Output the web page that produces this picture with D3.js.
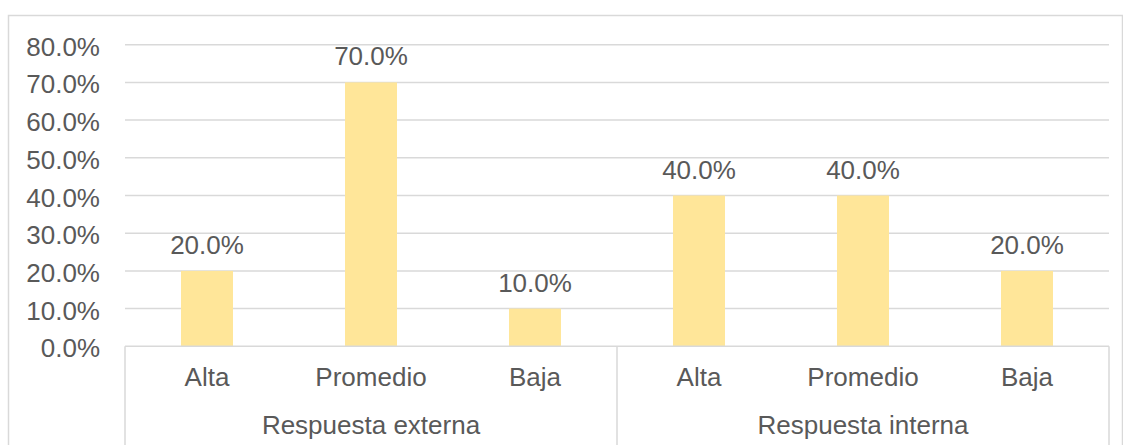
<!DOCTYPE html>
<html>
<head>
<meta charset="utf-8">
<script src="https://cdn.jsdelivr.net/npm/d3@7"></script>
<style>
  html, body { margin: 0; padding: 0; background: #fff; }
  svg { display: block; }
  text { font-family: "Liberation Sans", Arial, sans-serif; fill: #595959; }
</style>
</head>
<body>
<script>
const groups = ["Respuesta externa", "Respuesta interna"];
const categories = ["Alta", "Promedio", "Baja"];
const values = [0.20, 0.70, 0.10, 0.40, 0.40, 0.20];
const yTicks = [0, 0.1, 0.2, 0.3, 0.4, 0.5, 0.6, 0.7, 0.8];

const W = 1123, H = 445;
const plotLeft = 125, plotRight = 1109, plotTop = 44.7, plotBottom = 346.3;
const fontSize = 26;
const gridColor = "#d9d9d9";

const rows = [];
groups.forEach((g, gi) => categories.forEach((c, ci) => {
  rows.push({ key: g + "|" + c, group: g, cat: c, value: values[gi * categories.length + ci] });
}));

const svg = d3.select("body").append("svg").attr("width", W).attr("height", H);

// outer chart border
svg.append("rect")
  .attr("x", 8.5).attr("y", 15.5)
  .attr("width", 1114).attr("height", 450)
  .attr("fill", "none").attr("stroke", gridColor).attr("stroke-width", 1.5);

const x = d3.scaleBand().domain(rows.map(d => d.key)).range([plotLeft, plotRight])
  .paddingInner(0.683).paddingOuter(0.683 / 2);
const y = d3.scaleLinear().domain([0, 0.8]).range([plotBottom, plotTop]);
const gx = d3.scaleBand().domain(groups).range([plotLeft, plotRight]);

// gridlines
svg.append("g").selectAll("line").data(yTicks.filter(t => t > 0)).join("line")
  .attr("x1", plotLeft).attr("x2", plotRight)
  .attr("y1", d => y(d)).attr("y2", d => y(d))
  .attr("stroke", gridColor).attr("stroke-width", 1.5);

// y axis labels
const fmt = d3.format(".1%");
svg.append("g").selectAll("text").data(yTicks).join("text")
  .attr("x", 100).attr("y", d => y(d) + 11)
  .attr("text-anchor", "end")
  .attr("font-size", fontSize)
  .text(d => fmt(d));

// bars
svg.append("g").selectAll("rect").data(rows).join("rect")
  .attr("x", d => x(d.key)).attr("width", x.bandwidth())
  .attr("y", d => y(d.value)).attr("height", d => y(0) - y(d.value))
  .attr("fill", "#ffe699");

// data labels
svg.append("g").selectAll("text").data(rows).join("text")
  .attr("x", d => x(d.key) + x.bandwidth() / 2)
  .attr("y", d => y(d.value) - 17)
  .attr("text-anchor", "middle")
  .attr("font-size", fontSize)
  .text(d => fmt(d.value));

// category axis line
svg.append("line")
  .attr("x1", plotLeft).attr("x2", plotRight).attr("y1", y(0)).attr("y2", y(0))
  .attr("stroke", gridColor).attr("stroke-width", 1.5);

// group separators
const seps = [plotLeft].concat(groups.map(g => gx(g) + gx.bandwidth()));
svg.append("g").selectAll("line").data(seps).join("line")
  .attr("x1", d => d).attr("x2", d => d)
  .attr("y1", y(0)).attr("y2", H + 5)
  .attr("stroke", gridColor).attr("stroke-width", 1.5);

// category labels
svg.append("g").selectAll("text").data(rows).join("text")
  .attr("x", d => x(d.key) + x.bandwidth() / 2)
  .attr("y", y(0) + 40)
  .attr("text-anchor", "middle")
  .attr("font-size", fontSize)
  .text(d => d.cat);

// group labels
svg.append("g").selectAll("text").data(groups).join("text")
  .attr("x", d => gx(d) + gx.bandwidth() / 2)
  .attr("y", y(0) + 88)
  .attr("text-anchor", "middle")
  .attr("font-size", fontSize)
  .text(d => d);
</script>
</body>
</html>
